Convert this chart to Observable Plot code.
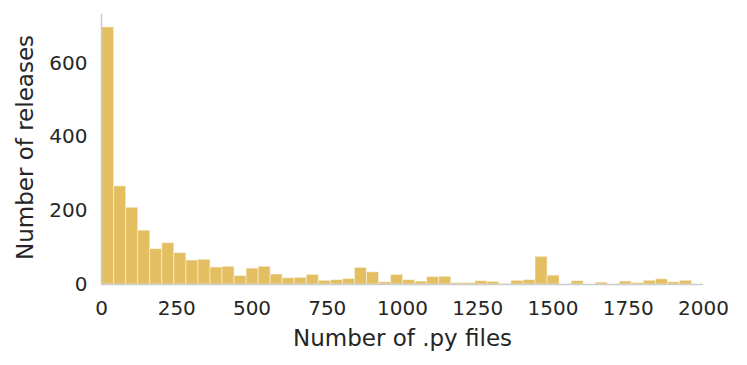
<!DOCTYPE html>
<html>
<head>
<meta charset="utf-8">
<script src="https://cdn.jsdelivr.net/npm/d3@7"></script>
<script src="https://cdn.jsdelivr.net/npm/@observablehq/plot@0.6"></script>
<style>
  html, body { margin: 0; padding: 0; background: #ffffff; }
</style>
</head>
<body>
<div id="chart"></div>
<script>
// Histogram bins (left edge, in number of .py files) and counts of releases
const binLeft = [2, 42, 82, 122, 162, 202, 242, 282, 322, 362,
                 402, 442, 482, 522, 562, 602, 642, 682, 722, 762,
                 802, 842, 882, 922, 962, 1002, 1042, 1082, 1122, 1162,
                 1202, 1242, 1282, 1322, 1362, 1402, 1442, 1482, 1522, 1562,
                 1602, 1642, 1682, 1722, 1762, 1802, 1842, 1882, 1922, 1962];
const binWidth = 40;
const counts = [697, 266, 208, 146, 96, 112, 85, 65, 67, 46,
                48, 23, 43, 48, 27, 17, 18, 26, 10, 12,
                15, 45, 33, 6, 26, 12, 8, 20, 21, 4,
                4, 9, 7, 1, 10, 12, 75, 24, 0, 9,
                0, 5, 0, 8, 4, 10, 14, 6, 10, 0];
const xTicks = [0, 250, 500, 750, 1000, 1250, 1500, 1750, 2000];
const yTicks = [0, 200, 400, 600];
const xLabel = "Number of .py files";
const yLabel = "Number of releases";

const bins = binLeft.map((x1, i) => ({x1, x2: x1 + binWidth, count: counts[i]}));

const textColor = "#262626";
const spineColor = "#cccccc";

const chart = Plot.plot({
  width: 747,
  height: 365,
  marginLeft: 101,
  marginRight: 44,
  marginTop: 14,
  marginBottom: 81,
  style: {fontFamily: "DejaVu Sans", color: textColor, background: "#ffffff"},
  x: {domain: [0, 2000]},
  y: {domain: [0, 732]},
  marks: [
    Plot.rectY(bins, {
      x1: "x1", x2: "x2", y: "count",
      fill: "#e4bf62", stroke: "#ffffff", strokeOpacity: 0.45, strokeWidth: 1,
      insetLeft: 0, insetRight: 0
    }),
    Plot.ruleX([0], {y1: 0, y2: 732, stroke: spineColor, strokeWidth: 1.5}),
    Plot.ruleY([0], {x1: 0, x2: 2000, stroke: spineColor, strokeWidth: 1.5}),
    Plot.axisX({ticks: xTicks, tickFormat: d => String(d), tickSize: 0, tickPadding: 16, fontSize: 20, label: null, fill: textColor}),
    Plot.axisY({ticks: yTicks, tickFormat: d => String(d), tickSize: 0, tickPadding: 14, fontSize: 20, label: null, fill: textColor}),
    Plot.text([xLabel], {frameAnchor: "bottom", dy: 54, fontSize: 23, fill: textColor, lineAnchor: "middle", textAnchor: "middle"}),
    Plot.text([yLabel], {frameAnchor: "left", dx: -76, dy: -2, rotate: -90, fontSize: 23, fill: textColor, lineAnchor: "middle", textAnchor: "middle"})
  ]
});

document.getElementById("chart").appendChild(chart);
</script>
</body>
</html>
